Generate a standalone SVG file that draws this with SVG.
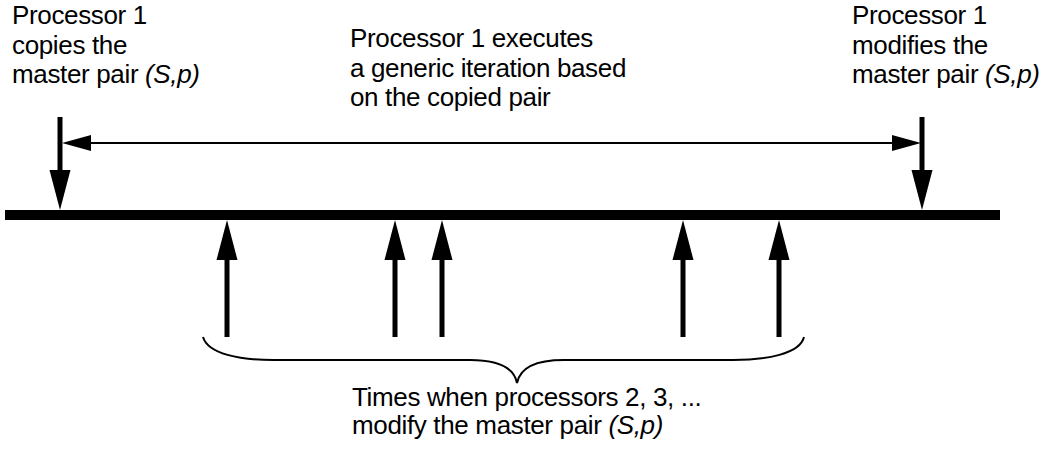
<svg xmlns="http://www.w3.org/2000/svg" width="1058" height="451" viewBox="0 0 1058 451">
<style>
text { font-family: "Liberation Sans", Arial, sans-serif; font-size: 26px; letter-spacing: -0.35px; fill: #000; }
.it { font-style: italic; }
.shaft { stroke: #000; stroke-width: 5; fill: none; }
.thin { stroke: #000; stroke-width: 2; fill: none; }
.bar { fill: #000; }
</style>
<defs>
<marker id="big" markerUnits="userSpaceOnUse" markerWidth="42" markerHeight="24" viewBox="0 -12 42 24" refX="0" refY="0" orient="auto" overflow="visible">
<path d="M0,-10.5 L40,0 L0,10.5 z" fill="#000"/>
</marker>
<marker id="small" markerUnits="userSpaceOnUse" markerWidth="32" markerHeight="18" viewBox="0 -9 32 18" refX="0" refY="0" orient="auto-start-reverse" overflow="visible">
<path d="M0,-8 L29,0 L0,8 z" fill="#000"/>
</marker>
</defs>
<rect class="bar" x="5" y="210" width="995" height="10"/>
<g id="connectors">
<path class="shaft" d="M60,117 L60,170" marker-end="url(#big)"/>
<path class="shaft" d="M922,117 L922,170" marker-end="url(#big)"/>
<path class="thin" d="M91,143 L892,143" marker-start="url(#small)" marker-end="url(#small)"/>
<path class="shaft" d="M227,337 L227,260" marker-end="url(#big)"/>
<path class="shaft" d="M395,337 L395,260" marker-end="url(#big)"/>
<path class="shaft" d="M442,337 L442,260" marker-end="url(#big)"/>
<path class="shaft" d="M683,337 L683,260" marker-end="url(#big)"/>
<path class="shaft" d="M779,337 L779,260" marker-end="url(#big)"/>
<path class="thin" d="M203,337 C208,354 240,360 273,360 L470,360 C500,360 514,368 517,383 C520,368 534,360 564,360 L733,360 C766,360 800,354 804,337"/>
</g>
<g id="label-copies">
<text x="12" y="24">Processor 1</text>
<text x="12" y="53.5">copies the</text>
<text x="12" y="83">master pair <tspan class="it">(S,p)</tspan></text>
</g>
<g id="label-executes">
<text x="350" y="47">Processor 1 executes</text>
<text x="350" y="76.5">a generic iteration based</text>
<text x="350" y="105.5">on the copied pair</text>
</g>
<g id="label-modifies">
<text x="852" y="24">Processor 1</text>
<text x="852" y="53.5">modifies the</text>
<text x="852" y="83">master pair <tspan class="it">(S,p)</tspan></text>
</g>
<g id="label-times">
<text x="352" y="406">Times when processors 2, 3, ...</text>
<text x="352" y="434">modify the master pair <tspan class="it">(S,p)</tspan></text>
</g>
</svg>
